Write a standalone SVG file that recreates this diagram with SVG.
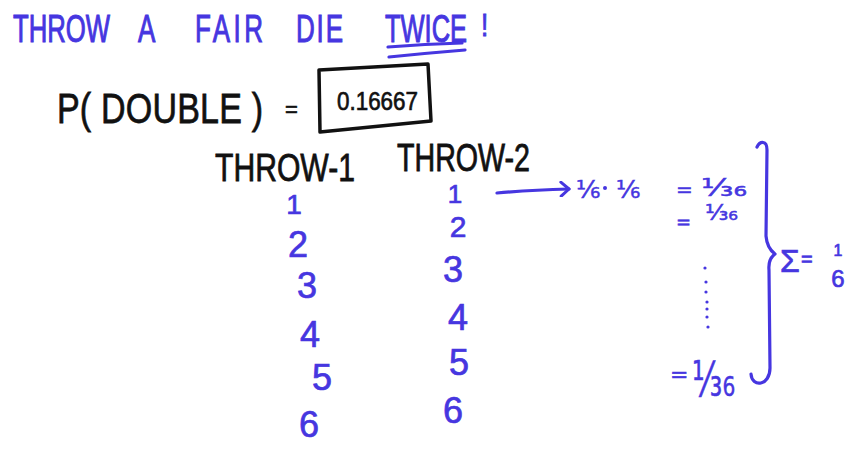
<svg xmlns="http://www.w3.org/2000/svg" width="858" height="459" viewBox="0 0 858 459">
<style>
.b{fill:#4636e0;stroke:#4636e0;stroke-width:0.7;font-family:"Liberation Sans",Arial,sans-serif}
.f{fill:#4636e0;stroke:#4636e0;stroke-width:0.5;font-family:"DejaVu Sans",sans-serif}
.k{fill:#111;stroke:#111;stroke-width:0.6;font-family:"Liberation Sans",Arial,sans-serif}
.ln{fill:none;stroke:#4636e0;stroke-width:3.2;stroke-linecap:round;stroke-linejoin:round}
.kl{fill:none;stroke:#111;stroke-width:3.5;stroke-linecap:round;stroke-linejoin:round}
.d{font-size:36px;text-anchor:middle}
.t{font-size:26px}
</style>
<defs>
<marker id="ah" markerWidth="14" markerHeight="16" refX="10" refY="8" orient="auto" markerUnits="userSpaceOnUse">
<path d="M2,1 L10,8 L2,15" fill="none" stroke="#4636e0" stroke-width="3" stroke-linecap="round" stroke-linejoin="round"/>
</marker>
</defs>
<rect width="858" height="459" fill="#fff"/>

<g id="title">
<text class="b t" transform="translate(13,42) scale(1,1.5)" textLength="97" lengthAdjust="spacingAndGlyphs">THROW</text>
<text class="b t" transform="translate(138,42) scale(1,1.5)">A</text>
<text class="b t" transform="translate(195,42) scale(1,1.5)" textLength="68" lengthAdjust="spacing">FAIR</text>
<text class="b t" transform="translate(296,42) scale(1,1.5)" textLength="47" lengthAdjust="spacing">DIE</text>
<text class="b t" transform="translate(385,42) scale(1,1.5)" textLength="82" lengthAdjust="spacingAndGlyphs">TWICE</text>
<text class="b t" transform="translate(481,36) scale(1,1.2)">!</text>
<path class="ln" d="M388,47 Q425,44 462,43" stroke-width="4"/>
<path class="ln" d="M389,57 Q428,53 465,50"/>
</g>

<g id="equation">
<text class="k" transform="translate(57,123) scale(1,1.25)" font-size="34" textLength="206" lengthAdjust="spacing">P( DOUBLE )</text>
<text class="k" x="285" y="117" font-size="22">=</text>
<path class="kl" d="M319,70 L428,64 L431,121 L320,132 Z"/>
<text class="k" transform="translate(337,110) scale(1,1.15)" font-size="23" textLength="81" lengthAdjust="spacingAndGlyphs">0.16667</text>
</g>

<g id="headers">
<text class="k" transform="translate(215,181) scale(1,1.3)" font-size="30" textLength="140" lengthAdjust="spacingAndGlyphs">THROW-1</text>
<text class="k" transform="translate(397,171) scale(1,1.4)" font-size="28" textLength="133" lengthAdjust="spacingAndGlyphs">THROW-2</text>
</g>

<g id="throw1">
<text class="b d" x="294" y="214" font-size="28" style="font-size:28px">1</text>
<text class="b d" x="298" y="257">2</text>
<text class="b d" x="307" y="298">3</text>
<text class="b d" x="310" y="347">4</text>
<text class="b d" x="322" y="390">5</text>
<text class="b d" x="309" y="437">6</text>
</g>

<g id="throw2">
<text class="b d" x="455" y="203" style="font-size:26px">1</text>
<text class="b d" x="458" y="237" style="font-size:30px">2</text>
<text class="b d" x="453" y="282">3</text>
<text class="b d" x="458" y="330">4</text>
<text class="b d" x="459" y="375">5</text>
<text class="b d" x="453" y="423">6</text>
</g>

<g id="connectors">
<path class="ln" d="M497,193 Q530,190 569,189" marker-end="url(#ah)"/>
</g>

<g id="product">
<text class="f" x="576" y="198" font-size="25">⅙</text>
<circle cx="605" cy="188" r="2" fill="#4636e0"/>
<text class="f" x="616" y="198" font-size="25">⅙</text>
<text class="f" x="676" y="196" font-size="20">=</text>
<text class="f" x="701" y="196" font-size="25" textLength="46" lengthAdjust="spacingAndGlyphs">¹⁄₃₆</text>
</g>

<g id="row2">
<text class="f" x="676" y="228" font-size="18">=</text>
<text class="f" x="705" y="220" font-size="22" textLength="33" lengthAdjust="spacingAndGlyphs">¹⁄₃₆</text>
</g>

<g id="dots" fill="#4636e0">
<circle cx="705" cy="268" r="1.6"/>
<circle cx="706" cy="282" r="1.6"/>
<circle cx="706" cy="292" r="1.6"/>
<circle cx="707" cy="302" r="1.6"/>
<circle cx="707" cy="309" r="1.6"/>
<circle cx="707" cy="317" r="1.6"/>
<circle cx="708" cy="327" r="1.6"/>
</g>

<g id="row6">
<text class="f" x="670" y="382" font-size="22">=</text>
<text class="f" x="692" y="396" font-size="48" textLength="43" lengthAdjust="spacingAndGlyphs">¹⁄₃₆</text>
</g>

<g id="brace">
<path class="ln" d="M757,147 C760,141 767,140 767,150 L766,236 Q767,248 775,254 Q768,259 769,270 L770,368 C770,386 752,388 751,374"/>
</g>

<g id="sum">
<text class="b" x="780" y="272" font-size="32">Σ</text>
<text class="b" x="801" y="266" font-size="20">=</text>
<text class="b" x="838" y="256" font-size="16" text-anchor="middle">1</text>
<text class="b" x="838" y="287" font-size="24" text-anchor="middle">6</text>
</g>
</svg>
